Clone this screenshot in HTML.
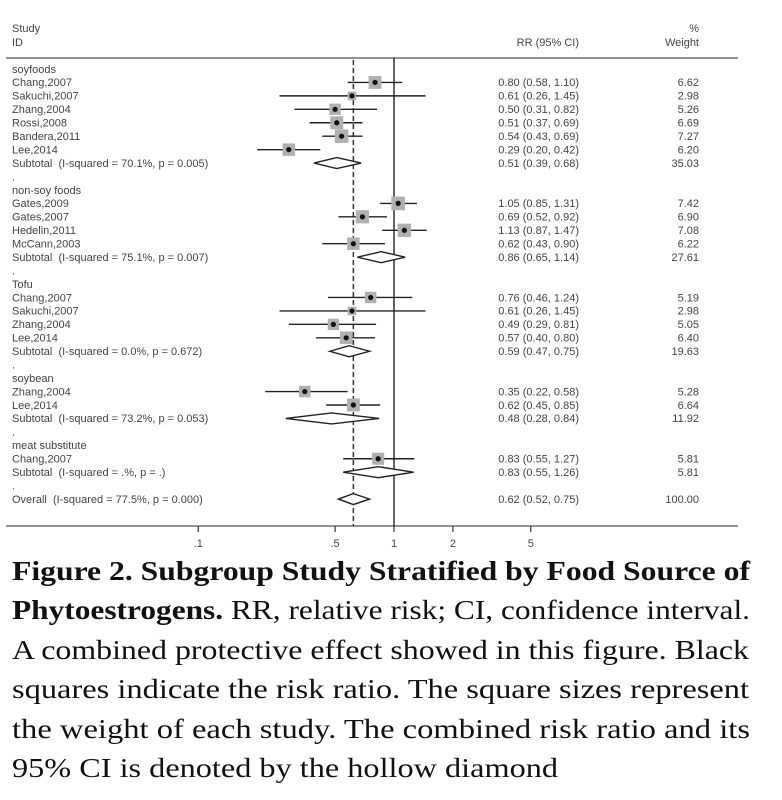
<!DOCTYPE html>
<html><head><meta charset="utf-8"><style>
html,body{margin:0;padding:0;background:#fff;width:782px;height:800px;overflow:hidden}
svg{display:block}
.t{font-family:"Liberation Sans",Arial,sans-serif;font-size:11px;fill:#444;white-space:pre}
.c{font-family:"Liberation Serif","Times New Roman",serif;font-size:27px;fill:#111}
</style></head><body>
<svg id="chart" width="782" height="800" viewBox="0 0 782 800" xmlns="http://www.w3.org/2000/svg">
<g id="plot"></g>
<g>
<text class="c" x="12" y="580" textLength="738" lengthAdjust="spacingAndGlyphs" font-weight="bold">Figure 2. Subgroup Study Stratified by Food Source of</text>
<text class="c" x="12" y="619" textLength="738" lengthAdjust="spacingAndGlyphs"><tspan font-weight="bold">Phytoestrogens.</tspan> RR, relative risk; CI, confidence interval.</text>
<text class="c" x="12" y="659" textLength="737" lengthAdjust="spacingAndGlyphs">A combined protective effect showed in this figure. Black</text>
<text class="c" x="12" y="698" textLength="737" lengthAdjust="spacingAndGlyphs">squares indicate the risk ratio. The square sizes represent</text>
<text class="c" x="12" y="738" textLength="738" lengthAdjust="spacingAndGlyphs">the weight of each study. The combined risk ratio and its</text>
<text class="c" x="12" y="777" textLength="546" lengthAdjust="spacingAndGlyphs">95% CI is denoted by the hollow diamond</text>
</g>
</svg>
<script>
// row types: g=group header, s=study, t=subtotal, b=blank, o=overall
const rowLabels = ["soyfoods","Chang,2007","Sakuchi,2007","Zhang,2004","Rossi,2008","Bandera,2011","Lee,2014","Subtotal  (I-squared = 70.1%, p = 0.005)",".",
"non-soy foods","Gates,2009","Gates,2007","Hedelin,2011","McCann,2003","Subtotal  (I-squared = 75.1%, p = 0.007)",".",
"Tofu","Chang,2007","Sakuchi,2007","Zhang,2004","Lee,2014","Subtotal  (I-squared = 0.0%, p = 0.672)",".",
"soybean","Zhang,2004","Lee,2014","Subtotal  (I-squared = 73.2%, p = 0.053)",".",
"meat substitute","Chang,2007","Subtotal  (I-squared = .%, p = .)",".",
"Overall  (I-squared = 77.5%, p = 0.000)"];
const rowTypes = ["g","s","s","s","s","s","s","t","b","g","s","s","s","s","t","b","g","s","s","s","s","t","b","g","s","s","t","b","g","s","t","b","o"];
const rr = [null,0.80,0.61,0.50,0.51,0.54,0.29,0.51,null,null,1.05,0.69,1.13,0.62,0.86,null,null,0.76,0.61,0.49,0.57,0.59,null,null,0.35,0.62,0.48,null,null,0.83,0.83,null,0.62];
const lo = [null,0.58,0.26,0.31,0.37,0.43,0.20,0.39,null,null,0.85,0.52,0.87,0.43,0.65,null,null,0.46,0.26,0.29,0.40,0.47,null,null,0.22,0.45,0.28,null,null,0.55,0.55,null,0.52];
const hi = [null,1.10,1.45,0.82,0.69,0.69,0.42,0.68,null,null,1.31,0.92,1.47,0.90,1.14,null,null,1.24,1.45,0.81,0.80,0.75,null,null,0.58,0.85,0.84,null,null,1.27,1.26,null,0.75];
const weights = [null,6.62,2.98,5.26,6.69,7.27,6.20,35.03,null,null,7.42,6.90,7.08,6.22,27.61,null,null,5.19,2.98,5.05,6.40,19.63,null,null,5.28,6.64,11.92,null,null,5.81,5.81,null,100.00];
const tickValues = [0.1,0.5,1,2,5];
const tickLabels = [".1",".5","1","2","5"];

const NS="http://www.w3.org/2000/svg";
const g=document.getElementById('plot');
const xS=v=>394+85*Math.log(v);
const yS=i=>69+i*13.44;
const TOP=58, AXIS=526;
function el(tag,attrs,parent){const e=document.createElementNS(NS,tag);for(const k in attrs)e.setAttribute(k,attrs[k]);(parent||g).appendChild(e);return e;}
function txt(x,y,s,anchor){const e=el('text',{x:x,y:y+3.8,'class':'t','text-anchor':anchor||'start'});e.textContent=s;return e;}

let e;
e=txt(12,28,"Study");


e=txt(12,42,"ID");


e=txt(579,42,"RR (95% CI)","end");


e=txt(699,28,"%","end");


e=txt(699,42,"Weight","end");


e=el('line',{x1:6,x2:738,y1:TOP,y2:TOP,stroke:'#555','stroke-width':1.3});


e=el('line',{x1:6,x2:738,y1:AXIS,y2:AXIS,stroke:'#555','stroke-width':1.3});


e=el('line',{x1:xS(1),x2:xS(1),y1:TOP,y2:AXIS,stroke:'#111','stroke-width':1.3});


const overallRR=rr[rr.length-1];
e=el('line',{x1:xS(overallRR),x2:xS(overallRR),y1:TOP+2,y2:AXIS,stroke:'#333','stroke-width':1.5,'stroke-dasharray':'5,3'});



tickValues.forEach((v,i)=>{
  const x=xS(v);
  e=el('line',{x1:x,x2:x,y1:AXIS,y2:AXIS+6,stroke:'#333','stroke-width':1.2});
  
  
  e=txt(x,543,tickLabels[i],"middle");
  
  
});

rowLabels.forEach((lab,i)=>{
  const y=yS(i), t=rowTypes[i];
  e=txt(12,y,lab.replace(/  /g,'\u00a0\u00a0'));
  
  
  if(t==='s'){
    e=el('line',{x1:xS(lo[i]),x2:xS(hi[i]),y1:y,y2:y,stroke:'#222','stroke-width':1.4});
    
    
    const s=5*Math.sqrt(weights[i]);
    e=el('rect',{x:xS(rr[i])-s/2,y:y-s/2,width:s,height:s,fill:'#b0b0b0'});
    
    
    e=el('circle',{cx:xS(rr[i]),cy:y,r:2.6,fill:'#111'});
    
    
  }
  if(t==='t'||t==='o'){
    const xl=xS(lo[i]),xm=xS(rr[i]),xh=xS(hi[i]);
    e=el('polygon',{points:`${xl},${y} ${xm},${y-5.5} ${xh},${y} ${xm},${y+5.5}`,fill:'#fff',stroke:'#222','stroke-width':1.4});
    
    
  }
  if(rr[i]!==null){
    e=txt(579,y,`${rr[i].toFixed(2)} (${lo[i].toFixed(2)}, ${hi[i].toFixed(2)})`,"end");
    
    
    e=txt(699,y,weights[i].toFixed(2),"end");
    
    
  }
});
</script>
</body></html>
